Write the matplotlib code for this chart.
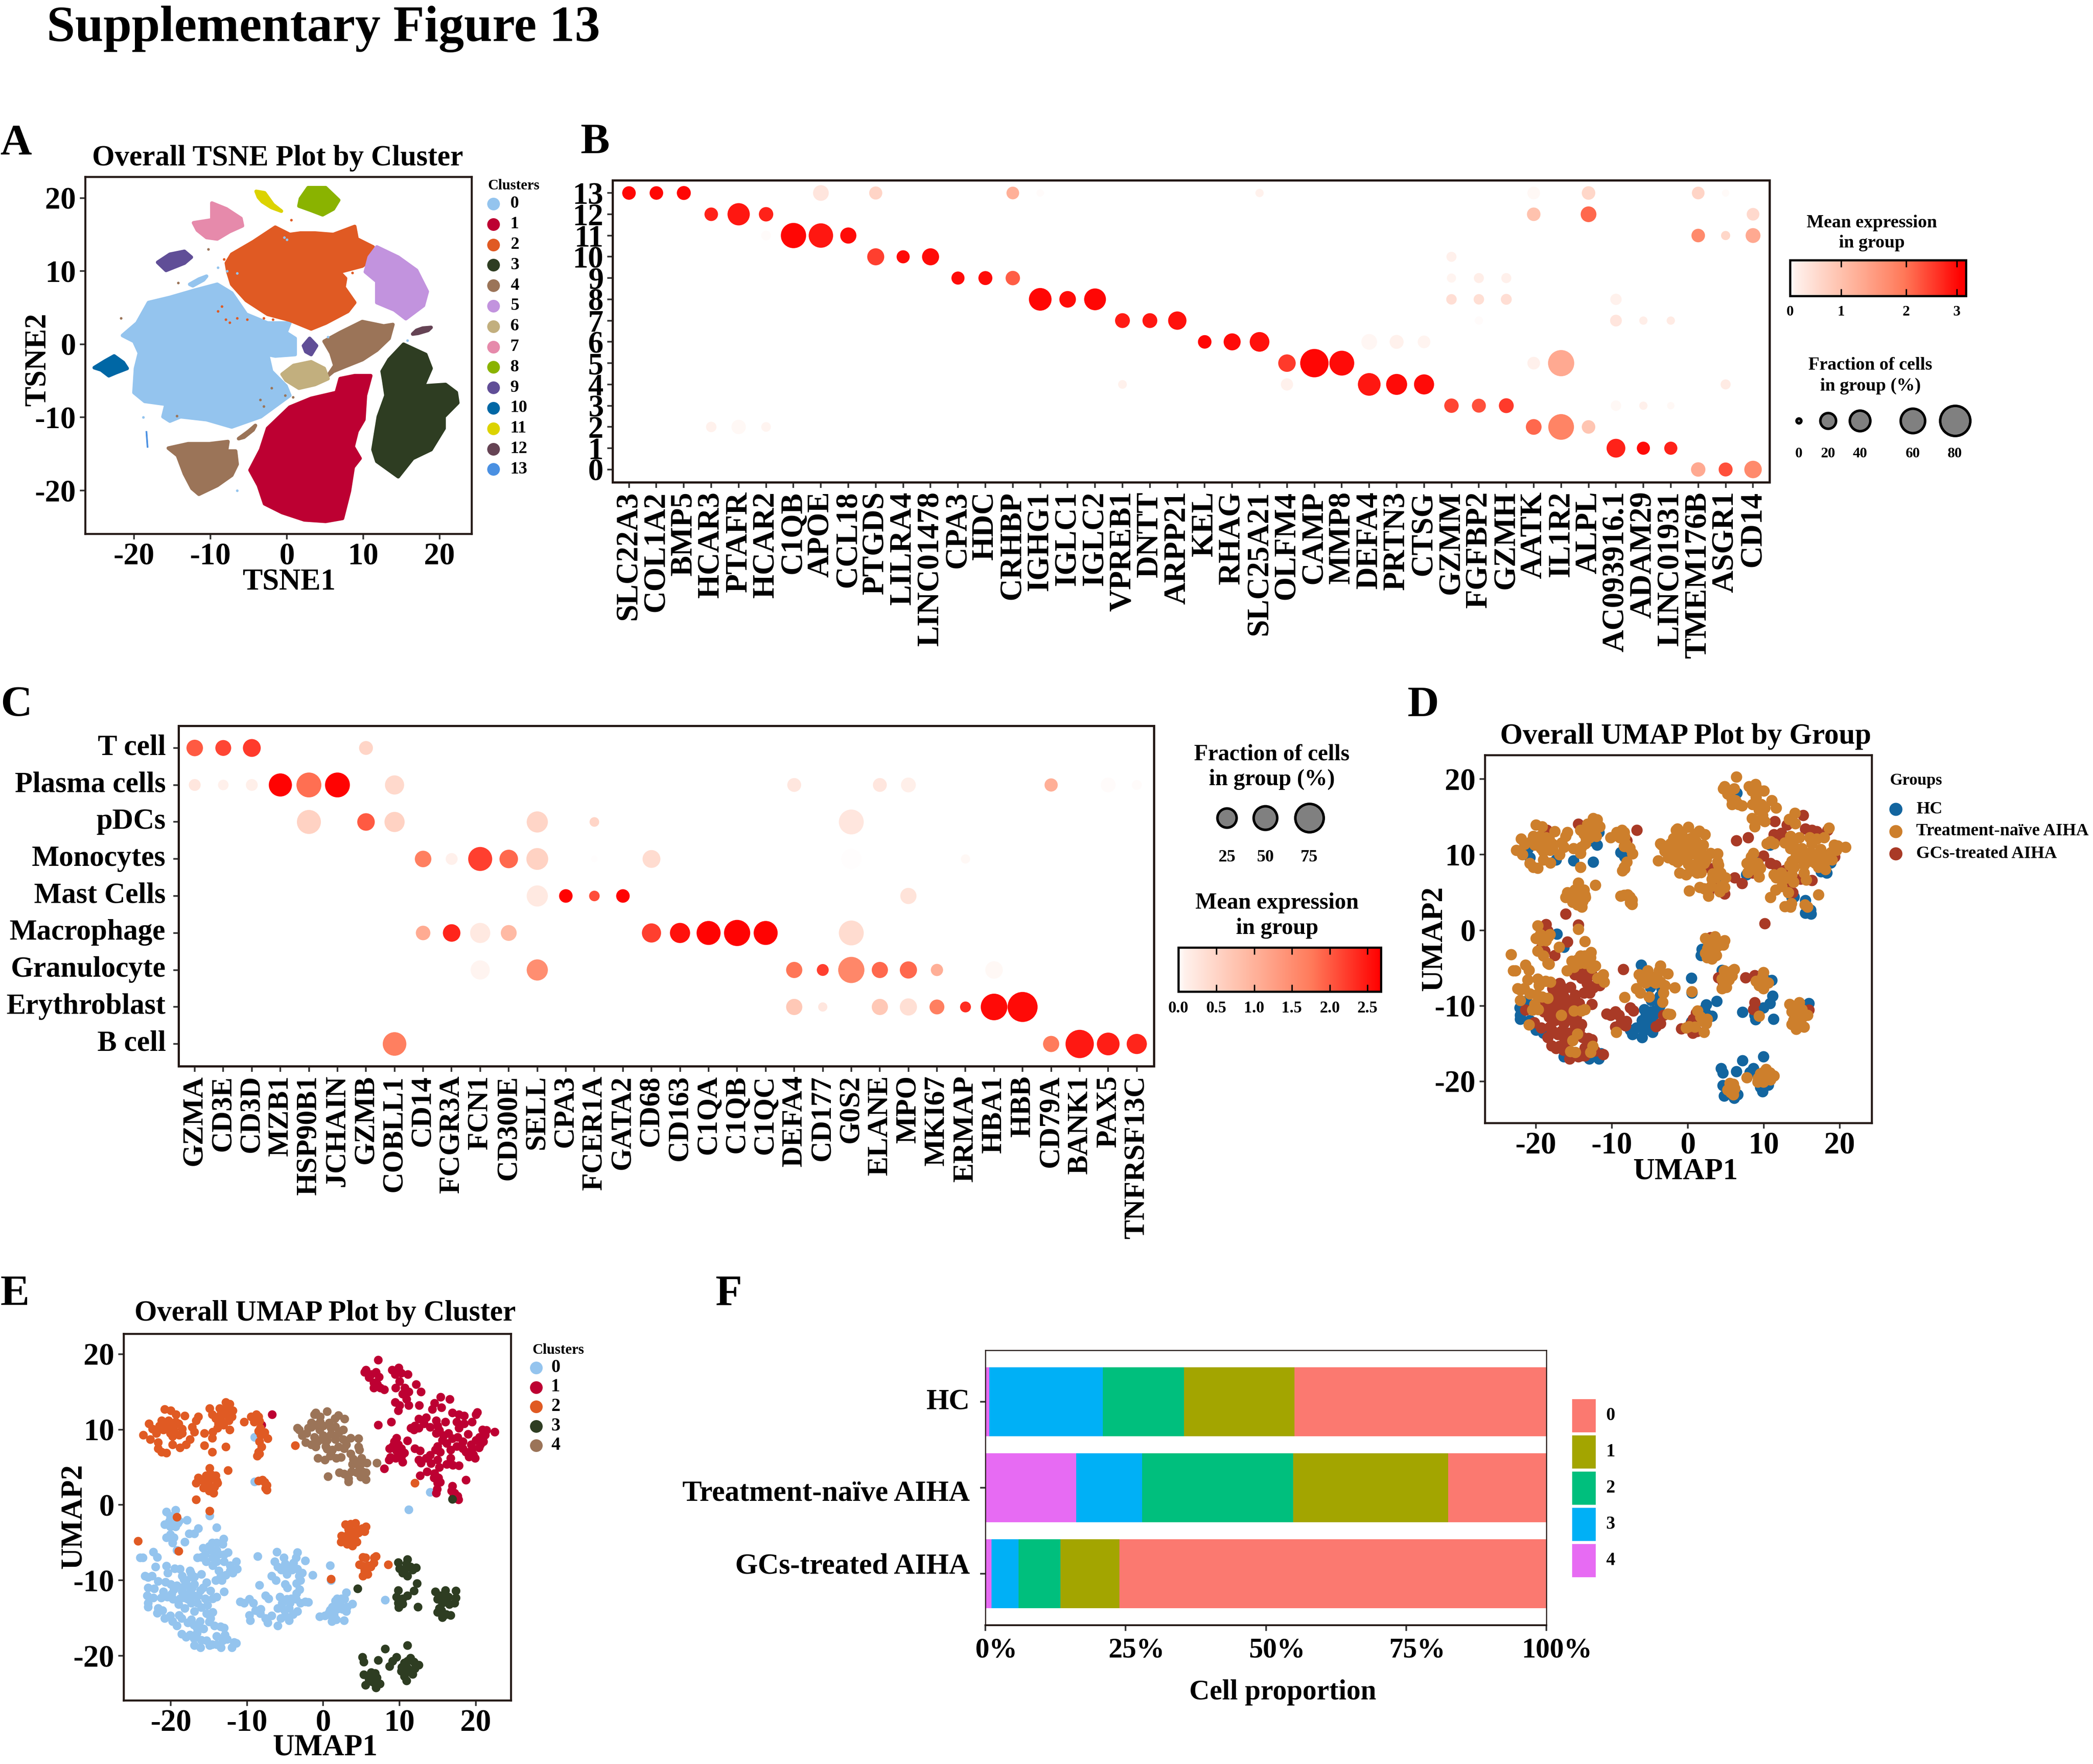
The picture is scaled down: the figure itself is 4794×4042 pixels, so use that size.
#!/usr/bin/env python
import numpy as np
import matplotlib
matplotlib.use("Agg")
import matplotlib.pyplot as plt
from matplotlib.colors import LinearSegmentedColormap
from matplotlib.transforms import ScaledTranslation

plt.rcParams['font.family'] = ['Liberation Serif', 'DejaVu Serif']
plt.rcParams['font.weight'] = 'bold'
plt.rcParams['axes.unicode_minus'] = False

W, H, DPI = 4794, 4042, 300

cluster_colors = ["#94C4EE", "#BD0032", "#E05A23", "#2E3D22", "#9B7458", "#C293DE", "#C2AF7E",
                  "#E68AAB", "#8AB300", "#604E97", "#0067A5", "#DCD300", "#654354", "#4A90E2"]
group_names = ["HC", "Treatment-naïve AIHA", "GCs-treated AIHA"]
group_colors = ["#13659F", "#CD7F2C", "#A93A26"]

# --- panel A, cluster outlines
t0 = [(-21.5,1.2),(-19.6,2.9),(-18.1,5.7),(-15.3,6.4),(-12,7.4),(-9.1,8.2),(-7.2,7),(-5.3,4.1),(-2.5,2.9),(.4,2.9),(-.1,1.6),(1.1,.8),(1.1,-1.4),(-1.5,-1.6),(-2.5,-1.4),(-2,-3.7),(-.1,-5.7),(.4,-7),(-3.4,-9.9),(-7.2,-11.3),(-10.5,-10.3),(-13.9,-9.9),(-15.3,-10.5),(-16.2,-9.9),(-15.8,-8.2),(-18.6,-7.8),(-20,-6.6),(-19.8,-3.3),(-19.3,-1.2),(-20,.4)]
t0b = [(-12.7,8.2),(-11.5,8.9),(-10.5,9.3),(-10.9,8.8),(-12.3,8)]
t1 = [(7,-4.7),(8.9,-4.3),(11,-4.3),(10.3,-7),(10.1,-10.3),(9.2,-11.9),(8.7,-14),(9.6,-15.6),(8.7,-16.8),(8.2,-20.1),(7.3,-23.8),(5.1,-24.2),(2.3,-24),(-.6,-23),(-2.9,-21.8),(-3.7,-19.3),(-4.8,-17.2),(-3.4,-14.4),(-2.5,-11.5),(.4,-8.6),(3.2,-7.4),(6.5,-6.6)]
t2 = [(-7.9,11.1),(-7.2,12.3),(-4.4,14),(-1.5,16),(.4,15),(1.8,15.2),(3.7,15.2),(6.1,15),(8.9,16.1),(9.2,14.4),(11.3,13.3),(11.3,11.9),(9.9,10.7),(7,9.9),(6.5,10.3),(7.7,9),(7.5,7.8),(8.9,5.7),(8,4.5),(5.1,2.9),(3.2,2.1),(.4,3.3),(-2.5,4.1),(-5.3,6),(-7.2,8.2),(-7.7,9.9)]
t3 = [(12.5,-3.7),(13.4,-2.1),(15.3,0),(18.2,-1.4),(18.9,-3.3),(17.9,-5.7),(20.8,-5.5),(22.2,-6.6),(22.4,-8),(20.6,-9.9),(20.6,-11.5),(18.9,-14.4),(16.5,-15.6),(14.6,-18.1),(11.8,-16),(11.3,-14.4),(12,-9.9),(13,-7),(12.7,-4.9)]
t4 = [(4.9,.4),(7,1.6),(9.9,3.1),(12.7,2.5),(13.9,2.7),(13.4,.8),(11.8,-.8),(9.9,-2.1),(7.5,-3.1),(6.1,-3.7),(5.4,-4.3),(6.3,-2.9),(5.8,-1.2)]
t4b = [(-15.5,-14.2),(-12.9,-13.6),(-10.1,-13.6),(-7.7,-13.3),(-7.9,-14.6),(-6.7,-14.6),(-6.5,-16.4),(-7.2,-17.9),(-9.1,-19.3),(-11.5,-20.5),(-12.4,-19.7),(-13.4,-17.7),(-14.3,-15.2)]
t4c = [(-6.3,-12.9),(-5,-11.9),(-4.1,-11.1),(-4.4,-11.7),(-5.6,-12.7)]
t5 = [(10.3,9.9),(10.8,11.9),(11.8,13.3),(14.6,11.9),(17,10.1),(18.4,7.2),(17.9,5.3),(15.6,3.5),(14.1,4.7),(11.8,5.7),(11.8,8.6)]
t6 = [(-.6,-4.1),(.9,-2.9),(3.2,-2.4),(4.9,-3.3),(5.4,-4.7),(3.7,-5.5),(1.6,-6),(-.1,-4.9)]
t7 = [(-12.2,16.6),(-9.8,17),(-9.8,19.3),(-7.9,18.5),(-6,17.2),(-5.8,16.2),(-7.5,15.4),(-9.1,14.4),(-10.5,14.6),(-11.7,15.6)]
t8 = [(1.8,19.9),(2.8,21.4),(5.1,21.4),(6.8,19.7),(6.1,18.5),(4.7,17.7),(3.2,18.3),(1.6,18.9)]
t9 = [(-16.9,11.2),(-15.3,12.3),(-13.4,12.7),(-12.5,11.9),(-13.4,11.1),(-15.8,10.1)]
t9b = [(2.2,-.2),(3,.8),(3.9,-.2),(3.2,-1.4),(2.5,-1)]
t10 = [(-25.2,-3.2),(-23.8,-2.3),(-22.6,-1.6),(-21.4,-2.5),(-20.9,-3.3),(-22.4,-3.9),(-23.3,-4.3),(-24.3,-3.5)]
t11 = [(-4,20.9),(-2.9,20.7),(-1.8,19.1),(-.7,18.2),(-2,18.7),(-3.2,19.5),(-3.7,20.1)]
t12 = [(16.5,1.4),(17,1.9),(17.8,2.2),(18.9,2.3),(18.5,1.9),(17.2,1.5)]
t13 = [(-18.45,-11.9),(-18.3,-11.9),(-18.15,-14.1),(-18.3,-14.1)]
# stray cells around the clouds
stray_orange = [(-9,4.5),(-8,3.4),(-7.5,3),(-8.5,5.2),(-6.5,3.6),(-5.2,3.4),(-3,3.6),(-1.8,3.4),(.6,3.2),(8.6,9.8),(-8.2,11.6),(.6,17)]
stray_brown = [(-21.7,3.6),(-10.3,13),(-14.2,8.4),(-3.5,-7.6),(-3,-8.5),(-2,-6),(-.2,-7),(.8,-7.2),(-14.4,-9.8)]
stray_blue = [(-18.8,-10),(-9,10.5),(-7.8,10),(-6.5,9.7),(-.3,14.6),(0,14.3),(5.4,1),(15.8,.5),(-6.5,-20)]

# --- panels D and E share the points, by cluster and group
c0_hc = [(-20.1,-1.5),(-19.6,-1.7),(-17.9,-2),(-16.9,-3.8),(-23.1,-12),(-23,-13),(-23,-13.5),(-22.2,-11.1),(-21.7,-13.7),(-19.8,-15.4),(-20.8,-15),(-16.9,-18.6),(-12,-18.9),(-13.4,-18.9),(-11.7,-18.2),(-6.1,-6.2),(-3.2,-9.4),(-4.8,-9.2),(-3.5,-10.4),(-4.7,-11),(-3.6,-12.5),(-3.5,-11.7),(-4.2,-12.4),(-4.4,-13),(-5.7,-12.2),(-5.4,-13),(-6,-13.7),(-5.1,-13.9),(-4.5,-13.7),(-5,-14.7),(-5.6,-15),(-4.5,-15.3),(-6,-16),(-6.8,-14.7),(-7.3,-15.6),(-7.6,-15),(-4.8,-12.5),(1,-10),(.9,-13.9),(1.8,-13.8),(2.4,-12.4),(2.8,-12.5),(3,-11.6),(3.8,-13.1),(.9,-8),(8.1,-12.6),(-9,9)]
c0_tn = [(-20.6,-.9),(-20.2,-2.1),(-18.9,-2.1),(-20.8,-2.6),(-20.1,-2.9),(-19.6,-2.4),(-19.4,-2.9),(-19.1,-2.4),(-20.6,-4.3),(-17.6,-3.8),(-14,-3),(-14.9,-1.4),(-19.8,-5),(-19.2,-6),(-15.8,-5.7),(-15,-5.5),(-14.6,-5),(-14,-5),(-13.1,-4.5),(-13.2,-5.2),(-14.7,-6),(-15.5,-6.5),(-16.5,-7),(-14,-6),(-13,-6.6),(-12.5,-6.3),(-12.2,-8),(-11.4,-7.5),(-11.3,-8.5),(-24,-7),(-23.7,-7),(-22.3,-6.2),(-21.8,-6.9),(-22,-8.2),(-20.6,-8.1),(-20.4,-9),(-19.5,-8.4),(-18.8,-8.5),(-23.4,-9.4),(-23,-9.6),(-22.5,-9.4),(-21.7,-10.1),(-20.7,-10.2),(-20,-10.5),(-19.2,-10.7),(-21,-11.5),(-21.3,-12.3),(-17.3,-13),(-15.5,-12.4),(-14.5,-12.4),(-14,-12.2),(-23,-11),(-20.5,-12.2),(-21.8,-14.3),(-16,-17.9),(-15.3,-18),(-15,-15.5),(-12.9,-17.2),(-15.7,-16.4),(-13.2,-18),(-5.2,-7),(-3.4,-6.3),(-3.6,-7),(-3.9,-7.7),(-2.4,-7.4),(-6.4,-7.5),(-6,-8.2),(-5.5,-8.6),(-5,-7.8),(-4.6,-8.4),(-4.1,-8.6),(-3.4,-8.5),(-1.4,-9.3),(-6.8,-9.4),(-6.2,-10),(-5,-10.5),(-8.4,-10.6),(-3,-10),(-2.8,-9),(-3.1,-11.2),(-9.6,-15.3),(-2.4,-12.8),(-2,-12.9),(.2,-14.7),(.6,-14.5),(1.8,-12.4),(2.2,-13.2),(2.5,-13.8),(3,-14.1),(1.4,-14.6),(2.7,-15.3),(3.1,-13.5),(14,1.7),(-9,3.1)]
c0_gc = [(-19.4,-.7),(-20.1,-3.9),(-19.6,-4.3),(-16.4,-3.1),(-18.2,-4.9),(-16,-6.9),(-15.4,-7.5),(-14.5,-7),(-13.7,-6.5),(-13,-7.5),(-14,-7.5),(-14.5,-8),(-13.7,-8.7),(-12.8,-9.3),(-13.5,-9.5),(-13.3,-10),(-14.1,-10),(-12.2,-8.7),(-11.9,-9),(-18.5,-9.4),(-17.5,-8.7),(-17.3,-9.5),(-17.4,-9),(-16.9,-9.5),(-16,-9.2),(-15.3,-10.3),(-15.8,-11),(-16.1,-11.3),(-16.9,-10.5),(-17.6,-10.8),(-18.3,-10.8),(-18.3,-9.9),(-19.9,-11.8),(-19.7,-12.5),(-18.8,-12.4),(-18.5,-11.5),(-17.6,-11.7),(-17,-12),(-16.4,-12),(-14.8,-11.4),(-22.3,-12.3),(-21.1,-14),(-20.1,-14.7),(-18.9,-14.6),(-18.6,-15),(-18.2,-13.7),(-16.9,-14.1),(-16.5,-13),(-15.3,-14.4),(-14.8,-15),(-14.5,-14.2),(-16.2,-15.4),(-17.3,-15.2),(-17.8,-15.6),(-17,-15.9),(-16.6,-16.3),(-14.3,-16),(-13.5,-16.1),(-13,-16.3),(-14,-17.4),(-14,-18.5),(-14.6,-18.5),(-16.6,-17),(-17.5,-17.2),(-18,-17.5),(-17,-17.7),(-16.1,-18.9),(-14.9,-18.6),(-11.4,-18.3),(-12.6,-17.8),(-19.2,-16),(-18.6,-17.1),(-15.2,-13.3),(-18,-10),(-17.8,-12.5),(-19,-13.2),(-17.2,-11),(-16,-13.6),(-19.6,-11.2),(-18.2,-12.3),(-13,-11.5),(-8.6,-6.8),(-10.9,-12.8),(-10.4,-13),(-9.7,-12.5),(-9.2,-13),(-8.9,-14),(-8.2,-13.8),(-7.6,-12),(-7.2,-12.4),(-8.3,-14.4),(-4,-14.5),(-3.4,-14.1),(-3,-13),(-9.7,-14.6),(1.2,-13.5),(.8,-14.2),(-.5,-14.8),(1.6,-12.7),(1.7,-15.2),(1.1,-15.4),(11.2,-.6)]
c1_hc = [(17.1,1.1),(17.6,1.2),(17.7,.7),(16.9,2.5),(20.4,7.6),(19.9,6.2),(19.1,6.4),(9.8,8),(9.1,7.8),(15,2.9),(15.3,3),(8.6,6),(11.9,10),(7.3,17)]
c1_gc = [(12.6,13.2),(13.5,11.6),(14.3,12.7),(16.9,12.2),(17.8,12),(18.5,11.8),(20,12),(7.2,10.6),(16.6,14),(15,10.5),(12,7.5),(12.7,7.2),(13.2,10.8),(14,6.6),(16.2,5.4),(15.1,3.6),(14.6,4.2),(17.8,5.2),(11,8.5),(8.9,11),(8,4.8),(9.5,6.2),(21,8.4),(12.5,11.4),(-6.7,12),(-8.1,10.6)]
c1_tn = [(7.2,19.2),(5.4,17.6),(5.6,17.9),(6,16.9),(6.3,17.3),(6.9,17.6),(6.6,16.2),(7.1,16),(7.5,15.5),(6.6,15.5),(8,15.3),(9,17.9),(9.9,18.2),(9.4,17.3),(10.2,17.5),(11.1,17.3),(10,16.4),(9.5,15.5),(10.7,15.5),(10.4,14.7),(10.9,14),(11.2,15),(12.2,16),(12.8,15),(11.2,13.2),(10,13.2),(9.4,13.6),(9.8,12.5),(14.6,13.5),(15.4,14.3),(15.5,12.9),(14.8,11.2),(20.2,12.3),(19.5,11),(18.5,10.8),(17.8,10.2),(17.5,11),(16,11),(14,10.3),(14.8,9.5),(15.2,9.9),(15.8,9.2),(16.4,9.5),(16.9,8.8),(17.6,9),(18.3,8.4),(19,9.4),(19.4,8),(20,8.6),(20.6,8),(21.2,9.3),(20.9,10),(21.4,9.9),(22.5,9.7),(20.5,9),(16.2,8.2),(15,7.8),(15.6,8.6),(15.3,7),(14.7,7.3),(16.7,7.3),(17.5,7.8),(18.3,7.5),(19.5,7.4),(18.7,7),(19.7,6.7),(13.5,6.2),(12.5,6),(12.8,5.6),(14.1,5.5),(15,6),(16.7,6.2),(17,5.3),(15.2,5),(13.6,4.4),(14.5,3.6),(12.7,3.9),(18.7,3.3),(14.9,2.1),(14.8,1.6),(16.8,1.9),(17.2,1.6),(9.6,8.9),(9.3,8.4),(8.7,7.5),(9.6,7.2),(10.2,7.5),(10.6,6.9),(10.2,6.4),(8.8,6.3),(10.4,5.7),(12.5,10.2),(12,10.5),(11.5,10.2)]
c2_hc = [(-21.9,9.5),(-21.7,8.3),(-18,8),(-15.6,7.9),(-13.1,10.6),(-12,11.7),(-12.3,10),(-12.8,7.7),(-8.4,8.4),(-8.2,9.3),(2.3,-4.9),(2.4,-4.1),(5.2,-6.9)]
c2_gc = [(-19.3,12),(-14.9,12.8),(-16.7,.7),(-14.9,-.8),(-13.5,12),(-15.4,2.7),(3.6,-2.5),(5.4,-8.7),(4.7,-7.9),(8.5,-7.9),(-19.2,-1.6)]
c2_tn = [(-23.6,9.3),(-22.9,10.8),(-22.4,10.1),(-22.7,8.7),(-21.2,7),(-20.6,6.9),(-21.7,7.5),(-20.8,12.7),(-20.3,10.8),(-20.6,10.3),(-19.6,10),(-19.8,9.1),(-19,10.8),(-18.5,10.1),(-20.3,11.2),(-21,10),(-21.2,11.2),(-18.2,11.8),(-18.5,9.5),(-18.8,7.6),(-19.8,8),(-17.5,8.7),(-16.7,11.2),(-17.2,10.3),(-16.9,9.7),(-16.4,11.7),(-15.6,9.5),(-14.6,8.9),(-14.6,7),(-14.6,12),(-14.1,11.5),(-13.6,12.8),(-13.8,10.8),(-13.3,11),(-12.8,13.6),(-12.3,13.4),(-14.5,9.7),(-11.9,12.5),(-12.8,12),(-20,12.5),(-20.9,10.6),(-20.1,9.5),(-19.4,11),(-18.9,9.3),(-19.9,10.2),(-21.5,10.5),(-13,12.4),(-12.4,11.2),(-13.9,10.2),(-12.6,13),(-10.4,11),(-9.5,11.7),(-9.1,11),(-8.8,12),(-8.5,11.7),(-8.4,11.1),(-8.3,10.2),(-8.5,9.8),(-7.7,9.6),(-7.3,8.8),(-8.1,7.7),(-8.5,7),(-8.7,6.5),(-8.4,6.8),(-3.7,7.9),(-14.9,4.9),(-16.4,3.6),(-16.7,2.9),(-15.8,3.2),(-15.4,3.9),(-14.6,3.6),(-14,3.2),(-14.3,2.4),(-15,1.9),(-15.7,2.3),(-14.6,2.1),(-14.1,3.9),(-15.1,3),(-14.7,4),(-13.9,2.9),(-14.4,1.6),(-12.5,4.6),(-19,-6.1),(-24.3,-4.8),(-8.5,3.2),(-8,3.3),(-7.7,3),(-7.4,2.6),(-7.6,2.2),(-7.4,2),(12,2.9),(2.9,-2.6),(3.3,-3.2),(4.2,-2.4),(5.6,-2.9),(5.4,-3.5),(5.1,-3.1),(3.8,-3.5),(3.2,-4),(2.9,-4.6),(3.5,-4.8),(3.8,-5.4),(3.4,-5.1),(4.1,-4.2),(4.6,-3.7),(4.4,-4.9),(3.1,-5.2),(4.5,-3.2),(5.5,-7),(6.7,-7),(6.9,-6.8),(6.6,-7.7),(6.2,-8.2),(5.8,-8),(5.2,-8.1),(5.5,-9),(5.2,-9.4),(5.8,-9.2),(1,-9.8)]
c3_hc = [(10.6,-8.7),(11.4,-8.2),(12.2,-8.3),(4.5,-11.1),(12.3,-10.4),(11.9,-11.4),(10.4,-12.4),(11,-12),(9.8,-13),(9.9,-13.6),(12.4,-13.5),(17.4,-11.4),(15.5,-14),(11,-18.6),(8.1,-19.1),(5.1,-20.2),(5.3,-20.8),(7.2,-20.6),(9.1,-20.7),(9.6,-20.2),(10.6,-22.7),(11.7,-22.4),(10.9,-23.3),(5.3,-22.5),(5.5,-23.9),(7.4,-23.7),(6.9,-24.2),(16.9,.8)]
c3_gc = [(9.8,-7.6),(9.8,-11.3),(9.6,-12.2),(17.4,-12.3)]
c3_tn = [(10.9,-7.8),(11,-7.2),(10,-8.4),(11.7,-8.6),(11,-9.4),(10.4,-9),(10.4,-13.1),(14.7,-11.5),(15.3,-12),(16,-11.3),(15,-12.5),(15.6,-13),(16.4,-12.2),(15.6,-12),(16,-12.6),(17.2,-13),(15.2,-13.7),(16.5,-13.2),(16.1,-14.5),(15.6,-14.9),(16.7,-14.6),(15,-14.2),(10.6,-20.9),(11,-20.7),(11.4,-20.3),(11.9,-20.8),(10.3,-21.5),(11,-21.6),(12,-21.7),(10.2,-22),(11,-22),(12.5,-21.2),(6.3,-22.2),(6.8,-22.3),(6.4,-23),(7,-22.9),(6,-23.1),(6.4,-23.4),(6.8,-23.7),(8.7,-21.4)]
c4_hc = [(5,5.5),(4.7,5)]
c4_gc = [(4.4,4.3),(3.3,3.5),(3.6,6.8),(7,5.6),(5.6,3.4)]
c4_tn = [(-1.2,12),(-1,12.2),(.5,12.4),(-.4,11.7),(1.5,11.5),(2.8,11.4),(2,11.9),(-3.4,10.2),(-3.2,10),(-2.8,9.2),(-2.2,9.5),(-2,10.2),(-1.6,10.9),(-1.6,10.3),(-1,10.6),(-.4,11),(-.5,10),(0,10.5),(.8,10.9),(1,10.2),(1.6,10.4),(2.6,10),(-1.2,9),(-2.3,8.3),(-1.6,8),(-1,7.7),(-.8,8.4),(0,9.2),(.5,8.6),(.3,7.8),(1,9.4),(1.6,8.7),(2,9.5),(2.6,8.7),(2,7.7),(1.2,7.3),(.5,7.4),(-.2,8.7),(1,6.7),(-.7,6.2),(.2,6),(.9,6.5),(2.3,6.3),(1.7,6.2),(2.7,7.5),(3,8),(3.6,8.9),(4.6,8.8),(4.6,7.7),(4.7,7.3),(3.9,6.1),(3.8,5.4),(4.3,5.6),(5,6.2),(5.7,5.6),(5.1,4.4),(4.9,3.7),(5.6,4.3),(.6,3.8),(2.1,4.3),(2.7,4.1),(3.3,3.1),(3.7,4.4)]

# panel D is the same embedding drawn a little narrower and higher
d_xscale, d_xshift, d_yscale, d_yshift = 0.94, -0.4, 0.98, 1.5

# --- panel B, per row: (gene index, percent of cells, mean expression)
b_genes = ["SLC22A3","COL1A2","BMP5","HCAR3","PTAFR","HCAR2","C1QB","APOE","CCL18","PTGDS","LILRA4","LINC01478","CPA3","HDC","CRHBP","IGHG1","IGLC1","IGLC2","VPREB1","DNTT","ARPP21","KEL","RHAG","SLC25A21","OLFM4","CAMP","MMP8","DEFA4","PRTN3","CTSG","GZMM","FGFBP2","GZMH","AATK","IL1R2","ALPL","AC093916.1","ADAM29","LINC01931","TMEM176B","ASGR1","CD14"]
b_row0 = [(39,12.8,1.3),(40,12,2.4),(41,18.4,1.8)]
b_row1 = [(36,21.8,2.8),(37,10.4,3.0),(38,10.4,2.8)]
b_row2 = [(3,5.6,.1),(4,12.8,.05),(5,4,.08),(33,15.2,2.2),(34,53,1.9),(35,11.2,.85)]
b_row3 = [(30,12.8,2.5),(31,12,2.4),(32,13.6,2.6),(36,5.6,.05),(37,1.6,.12),(38,0,.06)]
b_row4 = [(18,2.4,.1),(24,8.8,.1),(27,38,2.9),(28,31,3.0),(29,27.3,3.0),(40,4.8,.2)]
b_row5 = [(24,18.4,2.6),(25,64.6,3.05),(26,48.8,3.0),(33,9.6,.12),(34,55.6,1.3)]
b_row6 = [(21,11.2,3.05),(22,17.6,3.0),(23,25.5,2.95),(27,15.2,.07),(28,12,.1),(29,9.6,.08)]
b_row7 = [(18,13.6,2.85),(19,13.6,2.9),(20,20,2.95),(31,1.6,.03),(36,8,.3),(37,1.6,.15),(38,1.6,.2)]
b_row8 = [(15,38,3.05),(16,16.8,3.0),(17,34.5,3.05),(30,5.6,.42),(31,5.6,.4),(32,6.4,.42),(36,7.2,.1)]
b_row9 = [(12,10.4,3.0),(13,12,3.0),(14,12.8,2.3),(30,3.2,.08),(31,4.8,.15),(32,4.8,.12)]
b_row10 = [(9,17.6,2.55),(10,10.4,3.0),(11,17.6,3.0),(30,4.8,.12)]
b_row11 = [(5,4,.03),(6,51,3.05),(7,46.6,2.9),(8,16,3.0),(39,11.2,1.8),(40,3.2,.55),(41,13.6,1.3)]
b_row12 = [(3,11.2,2.8),(4,36.4,2.9),(5,12.8,2.8),(33,11.2,.9),(35,15.2,2.2),(41,9.6,.5)]
b_row13 = [(0,11.2,3.05),(1,11.2,3.05),(2,12,3.05),(7,15.2,.3),(9,10.4,.6),(14,9.6,1.2),(15,0,.03),(23,1.6,.1),(33,9.6,.05),(35,11.2,.55),(39,9.6,.6),(40,0,.04)]
b_rows = [b_row0,b_row1,b_row2,b_row3,b_row4,b_row5,b_row6,b_row7,b_row8,b_row9,b_row10,b_row11,b_row12,b_row13]
b_size_ticks = [0, 20, 40, 60, 80]
b_size_diam = [17, 42, 53, 62, 75]

# --- panel C, same layout
c_genes = ["GZMA","CD3E","CD3D","MZB1","HSP90B1","JCHAIN","GZMB","COBLL1","CD14","FCGR3A","FCN1","CD300E","SELL","CPA3","FCER1A","GATA2","CD68","CD163","C1QA","C1QB","C1QC","DEFA4","CD177","G0S2","ELANE","MPO","MKI67","ERMAP","HBA1","HBB","CD79A","BANK1","PAX5","TNFRSF13C"]
c_labels = ["B cell","Erythroblast","Granulocyte","Macrophage","Mast Cells","Monocytes","pDCs","Plasma cells","T cell"]
c_bcell = [(7,35,1.7),(30,16.5,1.75),(31,61,2.5),(32,30,2.45),(33,22.5,2.4)]
c_eryth = [(21,16.5,.7),(22,6,.25),(24,16.5,.7),(25,18,.35),(26,14.5,1.7),(27,8.5,2.35),(28,52,2.6),(29,70,2.6)]
c_gran = [(10,21,.07),(12,24,1.5),(21,16.5,1.8),(22,10,2.2),(23,50,1.6),(24,16.5,1.9),(25,18,1.9),(26,10.5,1.05),(28,18.5,.05)]
c_macro = [(8,14,1.1),(9,18.5,2.4),(10,22.5,.2),(11,16,.9),(16,21,2.2),(17,22.5,2.55),(18,37.5,2.65),(19,50,2.65),(20,37.5,2.65),(23,42.5,.4)]
c_mast = [(12,24,.2),(13,12.5,2.65),(14,8,2.1),(15,12.5,2.65),(25,16.5,.3)]
c_mono = [(8,17,1.7),(9,10,.1),(10,37.5,2.2),(11,20,1.9),(12,25,.55),(14,2,.02),(16,19,.4),(23,22.5,.02),(27,6,.05)]
c_pdc = [(4,37.5,.55),(6,18.5,2.0),(7,22.5,.55),(12,24,.5),(14,6.6,.5),(23,42.5,.25)]
c_plasma = [(0,10,.25),(1,8,.1),(2,10,.12),(3,32.5,2.65),(4,42.5,1.85),(5,42.5,2.65),(7,21,.45),(21,13,.25),(24,13,.25),(25,14.5,.12),(30,12,1.05),(32,14.5,.03),(33,7,.03)]
c_tcell = [(0,17,2.0),(1,16,2.15),(2,19,2.25),(6,13,.5)]
c_rows = [c_bcell,c_eryth,c_gran,c_macro,c_mast,c_mono,c_pdc,c_plasma,c_tcell]
c_size_ticks = [25, 50, 75]
c_size_diam = [50, 60, 71]
c_size_f = [0, 25, 50, 75, 100]
c_size_d = [12, 50, 60, 71, 80]

# --- panel F
f_groups = ["GCs-treated AIHA", "Treatment-naïve AIHA", "HC"]
f_c4 = [1.1, 16.2, 0.7]
f_c3 = [4.8, 11.7, 20.2]
f_c2 = [7.5, 27.0, 14.5]
f_c1 = [10.5, 27.6, 19.7]
f_c0 = [76.1, 17.5, 44.9]
f_colors = ["#FB7970", "#A3A500", "#00BF7D", "#00B0F6", "#E76BF3"]

expr_cmap = LinearSegmentedColormap.from_list("expr", [(0, "#FFFFFF"), (.03, "#FFF1EC"), (.33, "#FFBBA5"), (.66, "#FF7A5A"), (1, "#FF0000")])


def px2pt(d):
    return d * 72 / DPI


def make_ax(l, t, r, b):
    return fig.add_axes([l / W, 1 - b / H, (r - l) / W, (b - t) / H])


def style(ax, lw=1.1, size=17, length=3):
    for s in ax.spines.values():
        s.set_linewidth(lw)
        s.set_color("#231815")
    ax.tick_params(labelsize=size, width=.9, length=length, color="#333333", pad=2)


def title(ax, txt, px, py, size=16):
    l, t, r, b = ax.px_box
    ax.set_title(txt, x=(px - l) / (r - l), y=(b - py) / (b - t), va="center", pad=0, fontsize=size, fontweight="bold")


def labels(ax, xt, xp, yt, yp, size=16.5):
    ax.set_xlabel(xt, fontsize=size, fontweight="bold", va="center")
    ax.set_ylabel(yt, fontsize=size, fontweight="bold", va="center")
    ax.xaxis.set_label_coords(xp[0] / W, 1 - xp[1] / H, transform=fig.transFigure)
    ax.yaxis.set_label_coords(yp[0] / W, 1 - yp[1] / H, transform=fig.transFigure)


def pts(*lists):
    a = [p for lst in lists for p in lst]
    return np.array([p[0] for p in a]), np.array([p[1] for p in a])


def dots(ax, rows, vmax, sizef, sized):
    for r, row in enumerate(rows):
        g = [p[0] for p in row]
        f = [p[1] for p in row]
        e = [p[2] for p in row]
        d = np.interp(f, sizef, sized)
        ax.scatter(g, [r] * len(g), s=px2pt(d) ** 2, c=e, cmap=expr_cmap, vmin=0, vmax=vmax, linewidths=0)


def colorbar(box, vmax_shown, ticks, ticklabels, vmax, size=8, pad=6):
    ax = make_ax(*box)
    grad = np.linspace(0, vmax_shown, 256).reshape(1, -1)
    ax.imshow(grad, aspect="auto", cmap=expr_cmap, vmin=0, vmax=vmax, extent=[0, 1, 0, 1])
    ax.set_yticks([])
    ax.set_xticks(ticks, ticklabels)
    ax.tick_params(axis="x", direction="in", top=True, bottom=True, length=3.8, width=.8, labelsize=size, pad=pad)
    for s in ax.spines.values():
        s.set_linewidth(1.2)
        s.set_color("black")
    return ax


fig = plt.figure(figsize=(W / DPI, H / DPI), dpi=DPI)

# overlay in picture pixels, for legends and panel letters
ov = fig.add_axes([0, 0, 1, 1], zorder=10)
ov.set_xlim(0, W)
ov.set_ylim(H, 0)
ov.axis("off")

ov.text(107, 66, "Supplementary Figure 13", fontsize=28, ha="left", va="center")
panel_letters = ["A", "B", "C", "D", "E", "F"]
letter_x = [37, 1363, 37, 3259, 34, 1669]
letter_y = [330, 326, 1616, 1616, 2966, 2966]
for s, x, y in zip(panel_letters, letter_x, letter_y):
    ov.text(x, y, s, fontsize=24, ha="center", va="center")

# A
axA = make_ax(195, 405, 1080, 1223)
axA.px_box = (195, 405, 1080, 1223)
style(axA)
tsne_parts = [(t0, 0), (t0b, 0), (t1, 1), (t2, 2), (t3, 3), (t4, 4), (t4b, 4), (t4c, 4), (t5, 5), (t6, 6), (t7, 7), (t8, 8), (t9, 9), (t9b, 9), (t10, 10), (t11, 11), (t12, 12), (t13, 13)]
for part, c in tsne_parts:
    x, y = pts(part)
    axA.fill(x, y, facecolor=cluster_colors[c], edgecolor=cluster_colors[c], linewidth=2 if c != 13 else .3, joinstyle="round")
for part, col, d in [(stray_orange, cluster_colors[2], 6), (stray_brown, cluster_colors[4], 6), (stray_blue, cluster_colors[0], 6)]:
    x, y = pts(part)
    axA.scatter(x, y, s=px2pt(d) ** 2, color=col, linewidths=0, zorder=3)
axA.set_xlim(-26.4, 24.2)
axA.set_ylim(-25.9, 22.9)
axA.set_xticks([-20, -10, 0, 10, 20])
axA.set_yticks([-20, -10, 0, 10, 20])
title(axA, "Overall TSNE Plot by Cluster", 636, 362)
labels(axA, "TSNE1", (663, 1334), "TSNE2", (87, 823))
ov.text(1177, 426, "Clusters", fontsize=8, ha="center", va="center")
for i, col in enumerate(cluster_colors):
    yy = 467 + i * 46.8
    ov.scatter([1130], [yy], s=px2pt(29) ** 2, color=col, linewidths=0)
    ov.text(1169, yy, str(i), fontsize=9.5, ha="left", va="center")

# B
axB = make_ax(1403, 413, 4053, 1105)
style(axB, lw=1.2, size=17)
dots(axB, b_rows, 3.1, b_size_ticks, b_size_diam)
axB.set_xlim(-.6, 41.6)
axB.set_ylim(-.6, 13.6)
axB.set_xticks(range(len(b_genes)), b_genes, rotation=90)
axB.set_yticks(range(14))
axB.tick_params(axis="x", labelsize=17)
colorbar((4100, 596, 4503, 678), 3.17, [0, .29, .66, .948], ["0", "1", "2", "3"], 3.1, pad=5)
ov.text(4287, 534, "Mean expression\nin group", fontsize=10, ha="center", va="center", linespacing=1.3)
ov.text(4284, 861, "Fraction of cells\nin group (%)", fontsize=10, ha="center", va="center", linespacing=1.3)
b_leg_x = [4120, 4187, 4260, 4381, 4478]
for x, d, v in zip(b_leg_x, b_size_diam, b_size_ticks):
    ov.scatter([x], [964], s=px2pt(d - 6) ** 2, color="#808080", edgecolors="black", linewidths=1.4)
    ov.text(x, 1039, str(v), fontsize=8, ha="center", va="center")

# C
axC = make_ax(409, 1663, 2643, 2443)
style(axC, lw=1.2, size=16)
dots(axC, c_rows, 2.68, c_size_f, c_size_d)
axC.set_xlim(-.566, 33.6)
axC.set_ylim(-.6, 8.6)
axC.set_xticks(range(len(c_genes)), c_genes, rotation=90)
axC.set_yticks(range(9), c_labels)
axC.tick_params(axis="x", labelsize=16)
axC.tick_params(axis="y", pad=4)
up = ScaledTranslation(0, 8 / DPI, fig.dpi_scale_trans)
for lab in axC.get_yticklabels():
    lab.set_transform(lab.get_transform() + up)
ov.text(2913, 1757, "Fraction of cells\nin group (%)", fontsize=12.5, ha="center", va="center", linespacing=1.25)
c_leg_x = [2810, 2898, 2999]
for x, d, v in zip(c_leg_x, c_size_diam, c_size_ticks):
    ov.scatter([x], [1874], s=px2pt(d - 6) ** 2, color="#808080", edgecolors="black", linewidths=1.4)
    ov.text(x, 1965, str(v), fontsize=9.5, ha="center", va="center")
ov.text(2925, 2098, "Mean expression\nin group", fontsize=12.5, ha="center", va="center", linespacing=1.25)
colorbar((2699, 2171, 3163, 2272), 2.68, [0, .187, .374, .56, .747, .933], ["0.0", "0.5", "1.0", "1.5", "2.0", "2.5"], 2.68, size=9, pad=5)

# D
axD = make_ax(3401, 1730, 4287, 2573)
axD.px_box = (3401, 1730, 4287, 2573)
style(axD)
for gi, part in [(0, (c0_hc, c1_hc, c2_hc, c3_hc, c4_hc)), (2, (c0_gc, c1_gc, c2_gc, c3_gc, c4_gc)), (1, (c0_tn, c1_tn, c2_tn, c3_tn, c4_tn))]:
    x, y = pts(*part)
    axD.scatter(x * d_xscale + d_xshift, y * d_yscale + d_yshift, s=px2pt(26) ** 2, color=group_colors[gi], linewidths=0)
axD.set_xlim(-26.7, 24.2)
axD.set_ylim(-25.5, 23.2)
axD.set_xticks([-20, -10, 0, 10, 20])
axD.set_yticks([-20, -10, 0, 10, 20])
title(axD, "Overall UMAP Plot by Group", 3861, 1688)
labels(axD, "UMAP1", (3860, 2685), "UMAP2", (3286, 2151))
ov.text(4328, 1789, "Groups", fontsize=9, ha="left", va="center")
for gn, col, yy in zip(group_names, group_colors, [1854, 1905, 1956]):
    ov.scatter([4342], [yy], s=px2pt(30) ** 2, color=col, linewidths=0)
    ov.text(4389, yy, gn, fontsize=9.6, ha="left", va="center")

# E
axE = make_ax(283, 3056, 1170, 3896)
axE.px_box = (283, 3056, 1170, 3896)
style(axE)
for ci, part in enumerate([(c0_hc, c0_tn, c0_gc), (c1_hc, c1_tn, c1_gc), (c2_hc, c2_tn, c2_gc), (c3_hc, c3_tn, c3_gc), (c4_hc, c4_tn, c4_gc)]):
    x, y = pts(*part)
    axE.scatter(x, y, s=px2pt(20) ** 2, color=cluster_colors[ci], linewidths=0)
axE.set_xlim(-26.2, 24.6)
axE.set_ylim(-25.9, 22.7)
axE.set_xticks([-20, -10, 0, 10, 20])
axE.set_yticks([-20, -10, 0, 10, 20])
title(axE, "Overall UMAP Plot by Cluster", 745, 3009)
labels(axE, "UMAP1", (745, 4004), "UMAP2", (170, 3475))
ov.text(1279, 3093, "Clusters", fontsize=8, ha="center", va="center")
for i in range(5):
    yy = 3134 + i * 44.5
    ov.scatter([1228], [yy], s=px2pt(29) ** 2, color=cluster_colors[i], linewidths=0)
    ov.text(1262, yy, str(i), fontsize=10, ha="left", va="center")

# F
axF = make_ax(2257, 3094, 3542, 3724)
style(axF, lw=.6, size=15.5)
axF.spines["bottom"].set_linewidth(1)
left = np.zeros(3)
for vals, col in zip([f_c4, f_c3, f_c2, f_c1, f_c0], f_colors[::-1]):
    axF.barh(range(3), vals, left=left, height=.8, color=col, linewidth=0)
    left = left + np.array(vals)
axF.set_xlim(0, 100)
axF.set_ylim(-.6, 2.6)
axF.set_yticks(range(3), f_groups, fontsize=16)
axF.set_xticks([0, 25, 50, 75, 100], ["0%", "25%", "50%", "75%", "100%"])
axF.tick_params(axis="x", pad=3.5)
axF.tick_params(axis="y", pad=5.5)
shift = ScaledTranslation(25 / DPI, 0, fig.dpi_scale_trans)
for lab in axF.get_xticklabels():
    lab.set_transform(lab.get_transform() + shift)
for lab, dy in zip(axF.get_yticklabels(), [24, -6, 6]):
    lab.set_transform(lab.get_transform() + ScaledTranslation(0, dy / DPI, fig.dpi_scale_trans))
axF.set_xlabel("Cell proportion", fontsize=15.5, fontweight="bold", va="center")
axF.xaxis.set_label_coords(2938 / W, 1 - 3878 / H, transform=fig.transFigure)
for i, col in enumerate(f_colors):
    ov.bar(3628, 76, bottom=3206 + i * 83, width=54, color=col, linewidth=0)
    ov.text(3689, 3244 + i * 83, str(i), fontsize=10, ha="center", va="center")
ov.set_xlim(0, W)
ov.set_ylim(H, 0)

fig.savefig("out.png", dpi=DPI)
